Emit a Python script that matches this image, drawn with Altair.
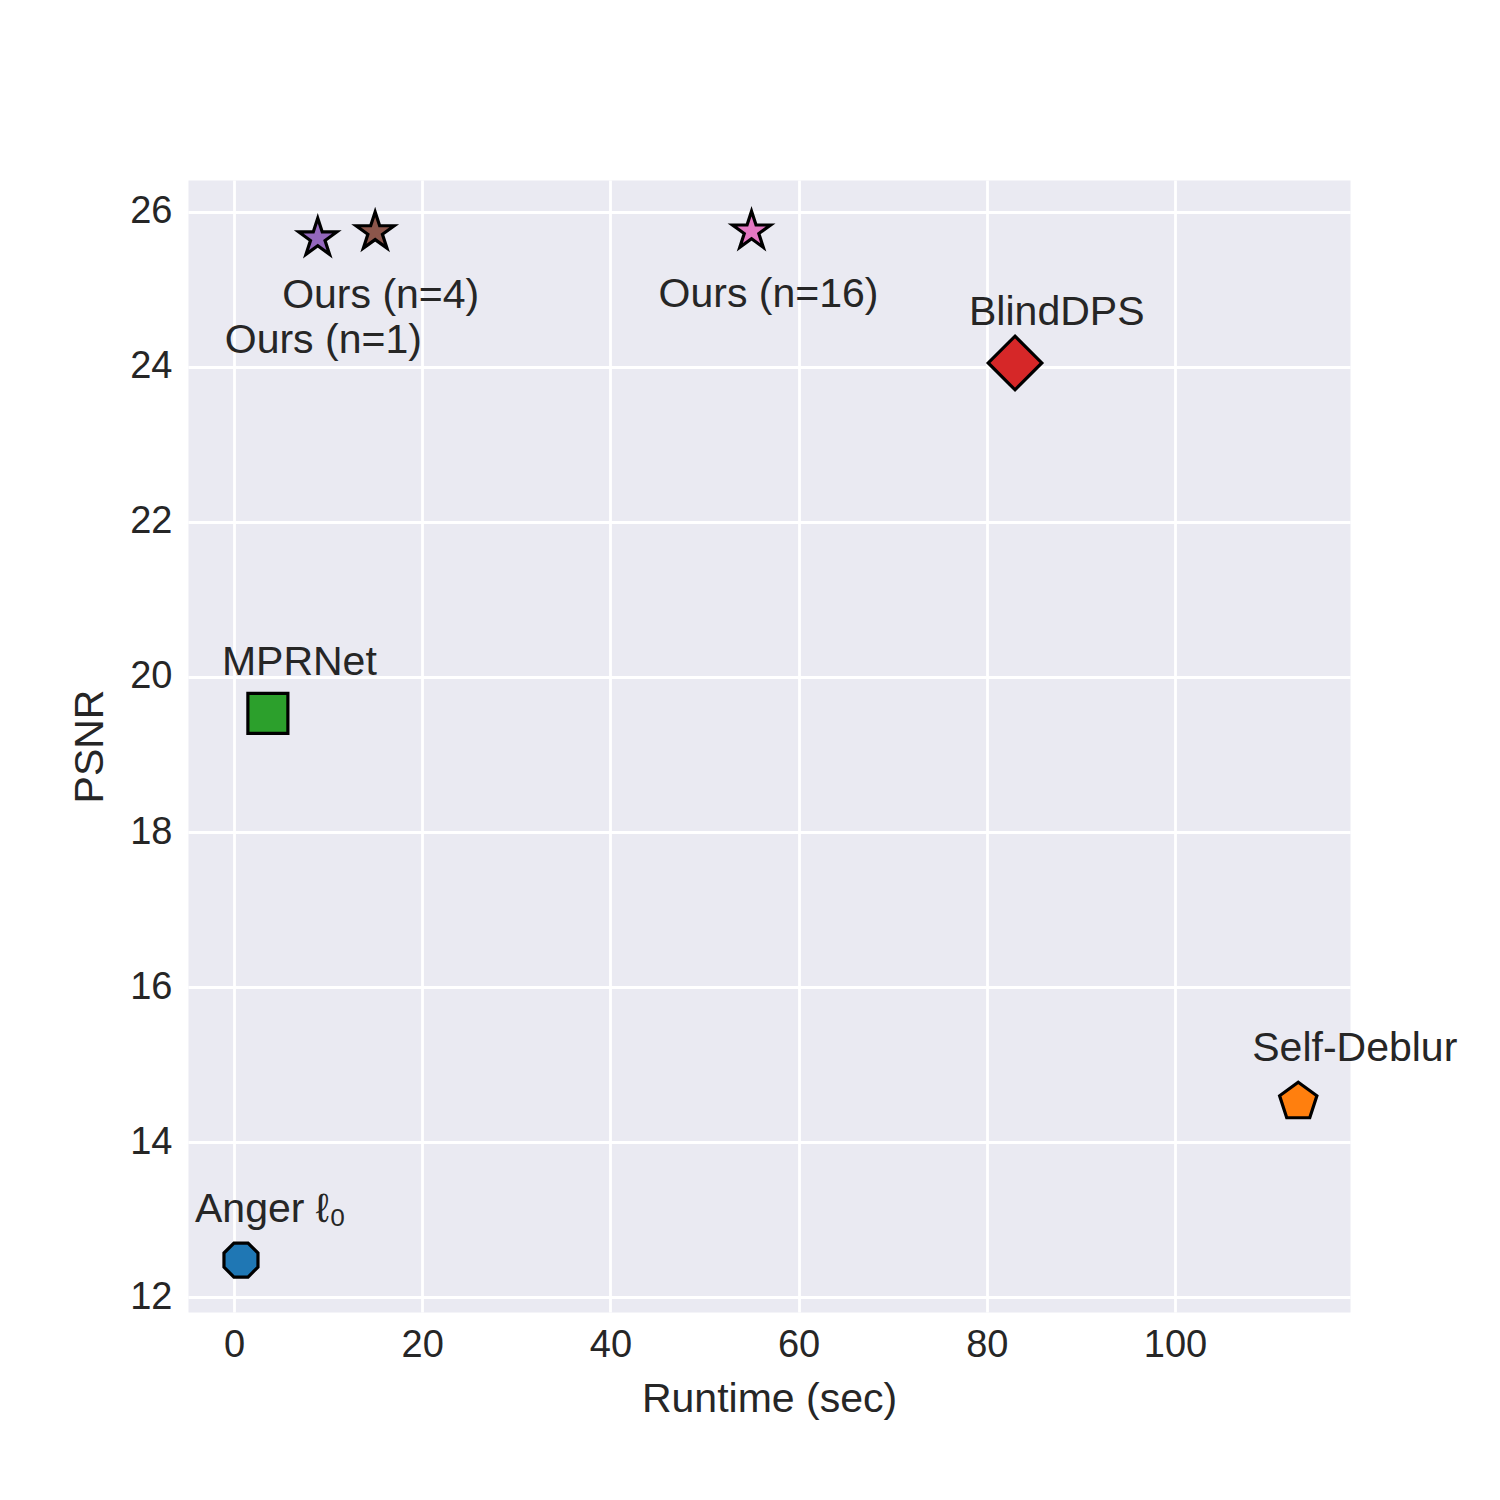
import math
import altair as alt
import pandas as pd

# ---- data ----
methods = ["Anger ℓ₀", "Self-Deblur", "MPRNet", "BlindDPS", "Ours (n=1)", "Ours (n=4)", "Ours (n=16)"]
runtime = [0.74, 113.1, 3.6, 83.0, 8.9, 15.0, 55.0]
psnr = [12.48, 14.52, 19.53, 24.05, 25.66, 25.74, 25.75]
x_ticks = [0, 20, 40, 60, 80, 100]
y_ticks = [12, 14, 16, 18, 20, 22, 24, 26]

# ---- styles ----
colors = ["#1f77b4", "#ff7f0e", "#2ca02c", "#d62728", "#9467bd", "#8c564b", "#e377c2"]


def poly(points):
    return "M" + "L".join(f"{x:.4f},{y:.4f}" for x, y in points) + "Z"


def regular(n, r, start_deg):
    return poly([(r * math.cos(math.radians(start_deg + k * 360 / n)),
                  r * math.sin(math.radians(start_deg + k * 360 / n))) for k in range(n)])


def star(r_out, ratio=0.381966):
    pts = []
    for k in range(10):
        r = r_out if k % 2 == 0 else r_out * ratio
        a = math.radians(-90 + k * 36)
        pts.append((r * math.cos(a), r * math.sin(a)))
    return poly(pts)


octagon = regular(8, 0.92, 22.5)
pentagon = regular(5, 0.98, -90)
square = poly([(-1.0, -1.0), (1.0, -1.0), (1.0, 1.0), (-1.0, 1.0)])
diamond = poly([(0, -1.34), (1.34, 0), (0, 1.34), (-1.34, 0)])
star_path = star(1.0)
shapes = [octagon, pentagon, square, diamond, star_path, star_path, star_path]

# label offsets (pixels, left-aligned, alphabetic baseline)
label_offsets = {
    "Anger ℓ₀": (-46, -38),
    "Self-Deblur": (-46, -41),
    "MPRNet": (-46, -38),
    "BlindDPS": (-46, -38),
    "Ours (n=1)": (-93, 115),
    "Ours (n=4)": (-93, 76),
    "Ours (n=16)": (-93, 76),
}

df = pd.DataFrame({"method": methods, "runtime": runtime, "psnr": psnr})

FONT = "Liberation Sans"
TXT = "#262626"

x_enc = alt.X("runtime:Q", title="Runtime (sec)",
              scale=alt.Scale(domain=[-4.89, 118.6], nice=False, zero=False),
              axis=alt.Axis(values=x_ticks, format="d", labelPadding=14, titlePadding=15))
y_enc = alt.Y("psnr:Q", title="PSNR",
              scale=alt.Scale(domain=[11.81, 26.41], nice=False, zero=False),
              axis=alt.Axis(values=y_ticks, format="d", labelPadding=16, titlePadding=18))

points = alt.Chart(df).mark_point(filled=True, size=1600, stroke="black",
                                  strokeWidth=3.2, opacity=1).encode(
    x=x_enc,
    y=y_enc,
    shape=alt.Shape("method:N", scale=alt.Scale(domain=methods, range=shapes), legend=None),
    fill=alt.Fill("method:N", scale=alt.Scale(domain=methods, range=colors), legend=None),
)

texts = []
for m in methods:
    dx, dy = label_offsets[m]
    texts.append(
        alt.Chart(df).transform_filter(alt.datum.method == m).mark_text(
            align="left", baseline="alphabetic", dx=dx, dy=dy,
            fontSize=41, font=FONT, color=TXT
        ).encode(x="runtime:Q", y="psnr:Q", text="method:N")
    )

chart = alt.layer(points, *texts).properties(
    width=1162, height=1132,
    autosize=alt.AutoSizeParams(type="none"),
    padding={"left": 180, "top": 172, "right": 142, "bottom": 180},
    background="white",
).configure_view(
    fill="#EAEAF2", stroke="transparent"
).configure_axis(
    domain=False, ticks=False, grid=True, gridColor="white", gridWidth=2.8,
    labelFont=FONT, labelFontSize=38, labelColor=TXT,
    titleFont=FONT, titleFontSize=41, titleFontWeight="normal", titleColor=TXT,
)

chart.save("out.html", embed_options={"renderer": "svg", "actions": False})
